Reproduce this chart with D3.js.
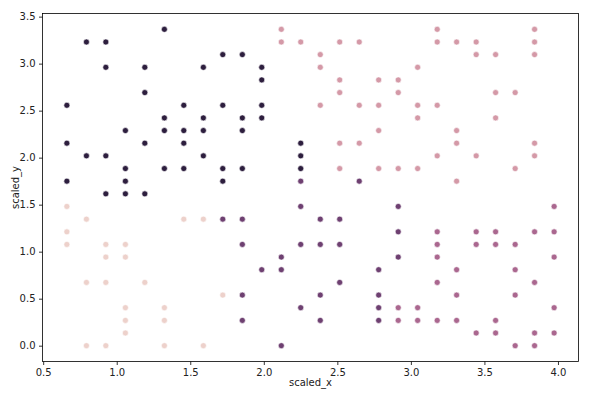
<!DOCTYPE html>
<html>
<head>
<meta charset="utf-8">
<script src="https://cdn.jsdelivr.net/npm/d3@7"></script>
<style>
  html, body { margin: 0; padding: 0; background: #fff; }
  svg { display: block; font-family: "DejaVu Sans", sans-serif; }
</style>
</head>
<body>
<svg id="chart" width="598" height="397"></svg>
<script>
// ---- data ----
const xValues = [
  // hue 4 (dark)
  0.661,0.661,0.661,0.794,0.794,0.926,0.926,0.926,0.926,1.059,1.059,1.059,1.059,1.191,1.191,1.191,1.191,
  1.324,1.324,1.324,1.324,1.456,1.456,1.456,1.456,1.721,1.854,1.589,1.986,1.986,1.721,1.986,1.589,1.854,
  1.986,1.589,1.854,2.251,1.589,2.251,1.721,1.854,2.251,1.721,
  // hue 0 (light)
  0.661,0.794,1.456,0.661,0.661,0.926,1.059,0.926,1.059,0.794,0.926,1.191,1.059,1.324,1.059,1.324,1.059,
  0.794,0.926,1.324,1.589,1.721,1.589,
  // hue 1 (pink)
  2.119,2.119,2.251,2.516,2.649,2.384,2.384,2.516,2.781,2.516,2.384,2.649,2.781,2.781,2.516,2.649,2.516,
  2.781,3.179,3.841,3.179,3.311,3.444,3.841,3.444,3.576,3.841,3.046,2.914,2.914,3.576,3.709,3.046,3.179,
  3.046,3.576,3.311,3.311,3.841,3.179,3.444,3.841,2.914,3.046,3.709,3.311,
  // hue 3 (purple)
  2.251,2.649,2.251,1.721,1.854,2.384,2.516,1.854,2.251,2.384,2.516,2.119,1.986,2.119,2.781,2.516,1.854,
  2.384,2.781,2.251,2.781,1.854,2.384,2.781,2.119,2.914,2.914,2.914,
  // hue 2 (magenta)
  3.974,3.179,3.444,3.576,3.841,3.974,3.179,3.444,3.576,3.709,3.179,3.974,3.311,3.709,3.179,3.841,3.311,
  3.709,2.914,3.046,3.974,2.914,3.046,3.179,3.311,3.576,3.444,3.576,3.841,3.974,3.709,3.841
];
const yValues = [
  // hue 4 (dark)
  2.557,2.154,1.750,3.230,2.019,3.230,2.961,2.019,1.615,2.288,1.884,1.750,1.615,2.961,2.692,2.154,1.615,
  3.365,2.423,2.288,1.884,2.557,2.288,2.154,1.884,3.096,3.096,2.961,2.961,2.827,2.557,2.557,2.423,2.423,
  2.423,2.288,2.288,2.154,2.019,2.019,1.884,1.884,1.884,1.750,
  // hue 0 (light)
  1.481,1.346,1.346,1.211,1.077,1.077,1.077,0.942,0.942,0.673,0.673,0.673,0.404,0.404,0.269,0.269,0.135,
  0.000,0.000,0.000,1.346,0.538,0.000,
  // hue 1 (pink)
  3.365,3.230,3.230,3.230,3.230,3.096,2.961,2.827,2.827,2.692,2.557,2.557,2.557,2.288,2.154,2.154,1.884,
  1.884,3.365,3.365,3.230,3.230,3.230,3.230,3.096,3.096,3.096,2.961,2.827,2.692,2.692,2.692,2.557,2.557,
  2.423,2.423,2.288,2.154,2.154,2.019,2.019,2.019,1.884,1.884,1.884,1.750,
  // hue 3 (purple)
  1.750,1.750,1.481,1.346,1.346,1.346,1.346,1.077,1.077,1.077,1.077,0.942,0.808,0.808,0.808,0.673,0.538,
  0.538,0.538,0.404,0.404,0.269,0.269,0.269,0.000,1.481,1.211,0.942,
  // hue 2 (magenta)
  1.481,1.211,1.211,1.211,1.211,1.211,1.077,1.077,1.077,1.077,0.942,0.942,0.808,0.808,0.673,0.673,0.538,
  0.538,0.404,0.404,0.404,0.269,0.269,0.269,0.269,0.269,0.135,0.135,0.135,0.135,0.000,0.000
];
const hueCounts = [44, 23, 46, 28, 32];
const hueLevels = [4, 0, 1, 3, 2];
const hueValues = [];
hueLevels.forEach((h, k) => { for (let n = 0; n < hueCounts[k]; n++) hueValues.push(h); });

const xTicks = [0.5, 1.0, 1.5, 2.0, 2.5, 3.0, 3.5, 4.0];
const yTicks = [0.0, 0.5, 1.0, 1.5, 2.0, 2.5, 3.0, 3.5];
const xLabel = "scaled_x";
const yLabel = "scaled_y";

// ---- seaborn default sequential cubehelix ("ch:") ----
function cubehelix(x) {
  const start = 0, rot = 0.4, gamma = 1.0, hue = 0.8;
  const xg = Math.pow(x, gamma);
  const a = hue * xg * (1 - xg) / 2;
  const phi = 2 * Math.PI * (start / 3 + rot * x);
  const f = (p0, p1) => Math.max(0, Math.min(1, xg + a * (p0 * Math.cos(phi) + p1 * Math.sin(phi))));
  const r = f(-0.14861, 1.78277), g = f(-0.29227, -0.90649), b = f(1.97294, 0.0);
  return d3.rgb(r * 255, g * 255, b * 255).formatHex();
}

const W = 598, H = 397;
const margin = { left: 42.5, right: 19.5, top: 13.5, bottom: 35.5 };
const svg = d3.select("#chart");

const pad = (ext) => { const r = ext[1] - ext[0]; return [ext[0] - 0.05 * r, ext[1] + 0.05 * r]; };
const x = d3.scaleLinear().domain(pad(d3.extent(xValues))).range([margin.left, W - margin.right]);
const y = d3.scaleLinear().domain(pad(d3.extent(yValues))).range([H - margin.bottom, margin.top]);
const hueScale = d3.scaleLinear().domain(d3.extent(hueValues)).range([0.85, 0.15]);

// points
const pts = xValues.map((v, i) => ({ x: v, y: yValues[i], h: hueValues[i] }));
svg.append("g").selectAll("circle").data(pts).join("circle")
  .attr("cx", d => x(d.x)).attr("cy", d => y(d.y)).attr("r", 3)
  .attr("fill", d => cubehelix(hueScale(d.h)))
  .attr("stroke", "#fff").attr("stroke-width", 0.6);

// axes
const xAxis = d3.axisBottom(x).tickValues(xTicks).tickFormat(d3.format(".1f")).tickSizeOuter(0).tickSize(3.5).tickPadding(3.5);
const yAxis = d3.axisLeft(y).tickValues(yTicks).tickFormat(d3.format(".1f")).tickSizeOuter(0).tickSize(3.5).tickPadding(3.5);

const gx = svg.append("g").attr("transform", `translate(0,${H - margin.bottom})`).call(xAxis);
const gy = svg.append("g").attr("transform", `translate(${margin.left},0)`).call(yAxis);
[gx, gy].forEach(g => {
  g.select(".domain").remove();
  g.selectAll(".tick line").attr("stroke", "#000").attr("stroke-width", 0.8);
  g.selectAll(".tick text").attr("fill", "#222").style("font-size", "10px").style("font-family", "DejaVu Sans");
});

// frame (spines)
svg.append("rect")
  .attr("x", margin.left).attr("y", margin.top)
  .attr("width", W - margin.left - margin.right).attr("height", H - margin.top - margin.bottom)
  .attr("fill", "none").attr("stroke", "#000").attr("stroke-width", 0.8);

// labels
svg.append("text").attr("x", (margin.left + W - margin.right) / 2).attr("y", 386)
  .attr("text-anchor", "middle").attr("fill", "#222").style("font-size", "10px").text(xLabel);
svg.append("text").attr("transform", `translate(19,${(margin.top + H - margin.bottom) / 2}) rotate(-90)`)
  .attr("text-anchor", "middle").attr("fill", "#222").style("font-size", "10px").text(yLabel);
</script>
</body>
</html>
